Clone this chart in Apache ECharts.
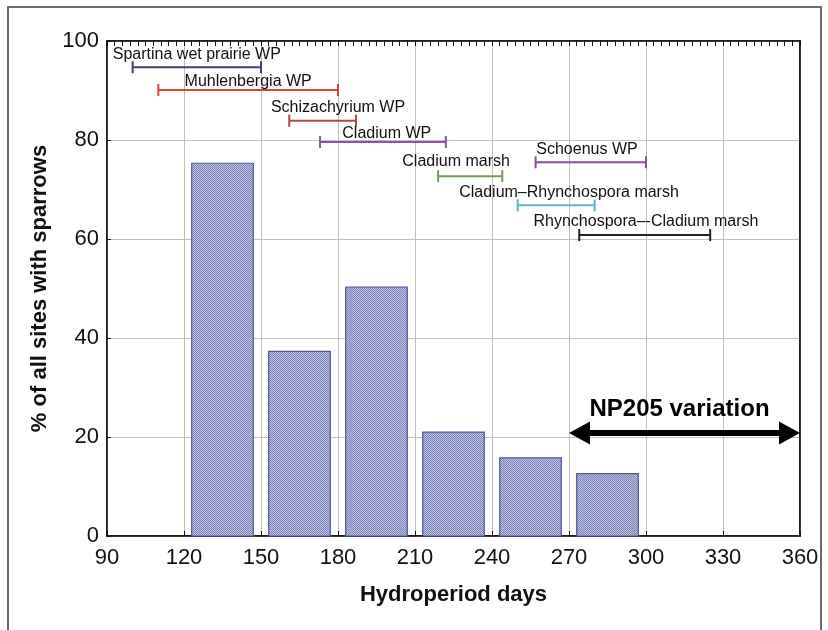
<!DOCTYPE html>
<html>
<head>
<meta charset="utf-8">
<title>Hydroperiod vs sparrows</title>
<script src="https://cdn.jsdelivr.net/npm/echarts@6/dist/echarts.min.js"></script>
<style>
  html, body { margin: 0; padding: 0; background: #fff; }
  #chart { width: 828px; height: 630px; }
</style>
</head>
<body>
<div id="chart"></div>
<script>
// histogram bins (hydroperiod days) and % of sites with sparrows
const binStart = [123, 153, 183, 213, 243, 273]
const binEnd = [147, 177, 207, 237, 267, 297]
const sparrowPct = [75.3, 37.3, 50.3, 21.0, 15.8, 12.6]

// vegetation type hydroperiod ranges
const vegNames = [
  'Spartina wet prairie WP',
  'Muhlenbergia WP',
  'Schizachyrium WP',
  'Cladium WP',
  'Schoenus WP',
  'Cladium marsh',
  'Cladium\u2013Rhynchospora marsh',
  'Rhynchospora\u2013-Cladium marsh'
]
const vegFrom = [100, 110, 161, 173, 257, 219, 250, 274]
const vegTo = [150, 180, 187, 222, 300, 244, 280, 325]
const vegRow = [94.7, 90.1, 83.9, 79.6, 75.5, 72.7, 66.8, 60.8]
const vegLabelX = [125, 145, 180, 199, 277, 226, 270, 300]
const vegLabelY = [97.3, 91.9, 86.5, 81.3, 78.0, 75.6, 69.3, 63.5]

// NP205 variation arrow
const np205Range = [270, 360]
const np205Level = 20.8

const xTicks = [90, 120, 150, 180, 210, 240, 270, 300, 330, 360]
const yTicks = [0, 20, 40, 60, 80, 100]

const vegColors = ['#3d4279', '#e0413b', '#b0474c', '#8b52a6', '#8a4c9a', '#6f9d58', '#5db6cf', '#222222']
const font = 'Liberation Sans, Arial, sans-serif'

// 细点纹理 for the bars
const dots = document.createElement('canvas')
dots.width = 2
dots.height = 2
const dctx = dots.getContext('2d')
dctx.fillStyle = '#bcc1e0'
dctx.fillRect(0, 0, 2, 2)
dctx.fillStyle = '#7c84bb'
dctx.fillRect(0, 0, 1, 1)
dctx.fillRect(1, 1, 1, 1)

const chart = echarts.init(document.getElementById('chart'), null, { renderer: 'canvas' })

const option = {
  animation: false,
  backgroundColor: '#fff',
  graphic: [
    {
      type: 'rect',
      shape: { x: 8, y: 7, width: 813, height: 660 },
      style: { fill: 'none', stroke: '#6a6a6a', lineWidth: 2 },
      silent: true,
      z: -10
    }
  ],
  grid: {
    left: 107,
    right: 28,
    top: 41,
    bottom: 94,
    show: true,
    borderColor: '#111',
    borderWidth: 1.5,
    backgroundColor: 'transparent'
  },
  xAxis: [
    {
      type: 'value',
      min: xTicks[0],
      max: xTicks[xTicks.length - 1],
      interval: 30,
      name: 'Hydroperiod days',
      nameLocation: 'middle',
      nameGap: 48,
      nameTextStyle: { fontFamily: font, fontSize: 22, fontWeight: 'bold', color: '#111' },
      axisLine: { show: true, onZero: false, lineStyle: { color: '#111', width: 1.5 } },
      axisTick: { show: true, inside: true, length: 5, lineStyle: { color: '#111' } },
      axisLabel: { fontFamily: font, fontSize: 22, color: '#111', margin: 11 },
      splitLine: { show: true, lineStyle: { color: '#c6bdb8', width: 1 } }
    },
    {
      type: 'value',
      position: 'top',
      min: xTicks[0],
      max: xTicks[xTicks.length - 1],
      interval: 3,
      axisLine: { show: true, onZero: false, lineStyle: { color: '#111', width: 1.5 } },
      axisTick: { show: true, inside: true, length: 5, lineStyle: { color: '#111' } },
      axisLabel: { show: false },
      splitLine: { show: false }
    }
  ],
  yAxis: [
    {
      type: 'value',
      min: yTicks[0],
      max: yTicks[yTicks.length - 1],
      interval: 20,
      name: '% of all sites with sparrows',
      nameLocation: 'middle',
      nameGap: 56,
      nameTextStyle: { fontFamily: font, fontSize: 22, fontWeight: 'bold', color: '#111' },
      axisLine: { show: true, onZero: false, lineStyle: { color: '#111', width: 1.5 } },
      axisTick: { show: true, inside: true, length: 4, lineStyle: { color: '#111' } },
      axisLabel: { fontFamily: font, fontSize: 22, color: '#111', margin: 8 },
      splitLine: { show: true, lineStyle: { color: '#c6bdb8', width: 1 } }
    },
    {
      type: 'value',
      position: 'right',
      min: yTicks[0],
      max: yTicks[yTicks.length - 1],
      interval: 20,
      axisLine: { show: true, onZero: false, lineStyle: { color: '#111', width: 1.5 } },
      axisTick: { show: false },
      axisLabel: { show: false },
      splitLine: { show: false }
    }
  ],
  series: [
    {
      type: 'custom',
      name: 'sites',
      z: 2,
      renderItem: (params, api) => {
        const p0 = api.coord([api.value(0), api.value(2)])
        const p1 = api.coord([api.value(1), 0])
        return {
          type: 'rect',
          shape: { x: p0[0], y: p0[1], width: p1[0] - p0[0], height: p1[1] - p0[1] },
          style: {
            fill: { image: dots, repeat: 'repeat' },
            stroke: '#4f579c',
            lineWidth: 1.2
          }
        }
      },
      data: binStart.map((s, i) => [s, binEnd[i], sparrowPct[i]])
    },
    {
      type: 'custom',
      name: 'vegetation',
      z: 3,
      renderItem: (params, api) => {
        const i = params.dataIndex
        const a = api.coord([api.value(0), api.value(2)])
        const b = api.coord([api.value(1), api.value(2)])
        const t = api.coord([api.value(3), api.value(4)])
        const c = vegColors[i]
        const cap = 6
        return {
          type: 'group',
          children: [
            { type: 'line', shape: { x1: a[0], y1: a[1], x2: b[0], y2: b[1] }, style: { stroke: c, lineWidth: 2 } },
            { type: 'line', shape: { x1: a[0], y1: a[1] - cap, x2: a[0], y2: a[1] + cap }, style: { stroke: c, lineWidth: 2 } },
            { type: 'line', shape: { x1: b[0], y1: b[1] - cap, x2: b[0], y2: b[1] + cap }, style: { stroke: c, lineWidth: 2 } },
            {
              type: 'text',
              x: t[0],
              y: t[1],
              style: {
                text: vegNames[i],
                fill: '#111',
                font: '16px ' + font,
                align: 'center',
                verticalAlign: 'middle'
              }
            }
          ]
        }
      },
      data: vegFrom.map((f, i) => [f, vegTo[i], vegRow[i], vegLabelX[i], vegLabelY[i]])
    },
    {
      type: 'custom',
      name: 'np205',
      z: 4,
      renderItem: (params, api) => {
        const a = api.coord([api.value(0), api.value(2)])
        const b = api.coord([api.value(1), api.value(2)])
        const headL = 21
        const headH = 11.5
        const y = a[1]
        return {
          type: 'group',
          children: [
            {
              type: 'line',
              shape: { x1: a[0] + headL - 2, y1: y, x2: b[0] - headL + 2, y2: y },
              style: { stroke: '#000', lineWidth: 6 }
            },
            {
              type: 'polygon',
              shape: { points: [[a[0], y], [a[0] + headL, y - headH], [a[0] + headL, y + headH]] },
              style: { fill: '#000' }
            },
            {
              type: 'polygon',
              shape: { points: [[b[0], y], [b[0] - headL, y - headH], [b[0] - headL, y + headH]] },
              style: { fill: '#000' }
            },
            {
              type: 'text',
              x: (a[0] + b[0]) / 2 - 5,
              y: y - 24,
              style: {
                text: 'NP205 variation',
                fill: '#000',
                font: 'bold 24px ' + font,
                align: 'center',
                verticalAlign: 'middle'
              }
            }
          ]
        }
      },
      data: [[np205Range[0], np205Range[1], np205Level]]
    }
  ]
}

chart.setOption(option)
</script>
</body>
</html>
